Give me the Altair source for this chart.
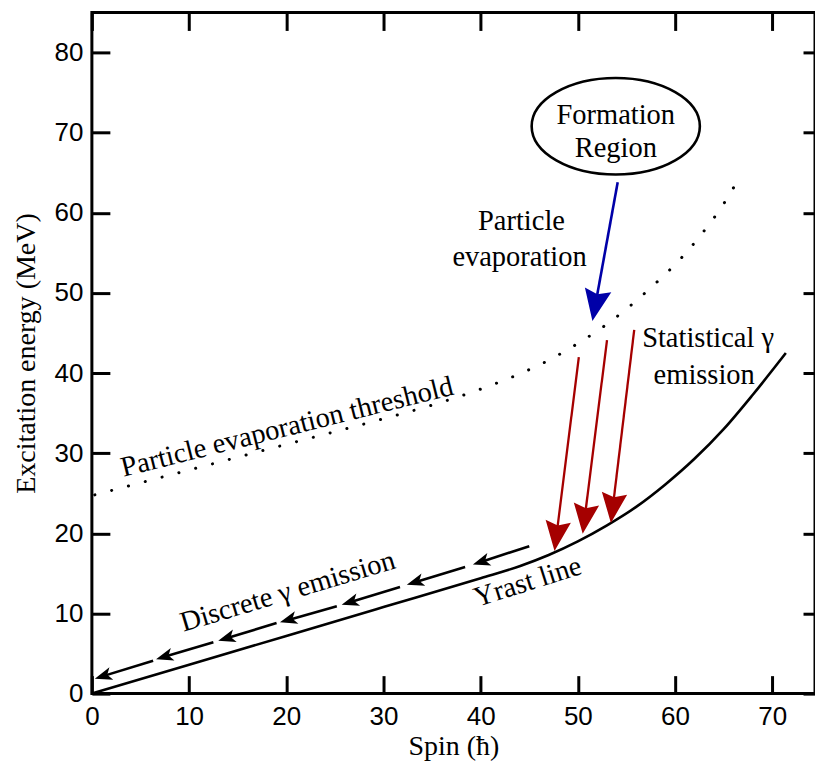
import math
import altair as alt
import pandas as pd

# ---------------- data ----------------
x_ticks = [0, 10, 20, 30, 40, 50, 60, 70]
y_ticks = [0, 10, 20, 30, 40, 50, 60, 70, 80]

yrast_spin = [0, 10, 20, 30, 40, 44, 47, 50, 53, 56, 59, 62, 65, 68, 71.4]
yrast_e = [0, 3.6, 7.2, 10.8, 14.4, 15.9, 17.3, 19.0, 21.0, 23.3, 26.1, 29.3, 33.0, 37.3, 42.5]

thr_spin = [0.3, 10, 20, 30, 35, 40, 44, 47, 50, 52.3, 55.2, 58, 60.6, 62.9, 65.1, 66.1]
thr_e = [24.8, 27.9, 31.1, 34.3, 36.0, 38.0, 39.9, 41.6, 43.7, 45.5, 48.2, 51.2, 54.3, 57.6, 61.3, 63.3]

disc_tail_spin = [6.3, 12.5, 19.0, 25.2, 31.7, 38.4, 45.0]
disc_tail_e = [4.1, 6.4, 8.8, 10.9, 13.3, 15.8, 18.4]
disc_tip_spin = [0.3, 6.6, 13.0, 19.35, 25.7, 32.4, 39.2]
disc_tip_e = [1.87, 4.3, 6.6, 8.9, 11.1, 13.6, 16.1]

red_start_spin = [50.1, 53.0, 55.8]
red_start_e = [42.0, 44.1, 45.4]
red_tip_spin = [47.6, 50.5, 53.4]
red_tip_e = [17.8, 19.95, 21.3]

blue_start_spin = [54.1]
blue_start_e = [63.8]
blue_tip_spin = [51.5]
blue_tip_e = [46.5]

ellipse_spin = [53.9]
ellipse_e = [70.8]

label_text = ["Formation", "Region", "Particle", "evaporation", "Statistical γ", "emission",
              "Particle evaporation threshold", "Discrete γ emission", "Yrast line"]
label_spin = [53.9, 53.9, 44.2, 44.0, 63.4, 63.0, 20.3, 20.4, 45.1]
label_e = [71.1, 66.9, 57.8, 53.4, 43.2, 38.65, 32.2, 11.7, 12.9]
label_angle = [0, 0, 0, 0, 0, 0, 346, 343.3, 342.4]

# ---------------- layout ----------------
W, H = 724, 682
XMAX, YMAX = 74.4, 85
sx, sy = W / XMAX, H / YMAX

xs = alt.Scale(domain=[0, XMAX], nice=False, zero=False)
ys = alt.Scale(domain=[0, YMAX], nice=False, zero=False)

SERIF = "Liberation Serif"
SANS = "Liberation Sans"


def arrows(s0, e0, s1, e1, back_px):
    rows = []
    for a, b, c, d in zip(s0, e0, s1, e1):
        dxp = (c - a) * sx
        dyp = -(d - b) * sy
        L = math.hypot(dxp, dyp)
        ang = math.degrees(math.atan2(-dyp, -dxp)) % 360
        f = back_px / L
        rows.append(dict(s0=a, e0=b, s1=c - (c - a) * f, e1=d - (d - b) * f,
                         ts=c, te=d, angle=ang))
    return pd.DataFrame(rows)


yrast_df = pd.DataFrame({"spin": yrast_spin, "e": yrast_e})
thr_df = pd.DataFrame({"spin": thr_spin, "e": thr_e})
disc_df = arrows(disc_tail_spin, disc_tail_e, disc_tip_spin, disc_tip_e, 6)
red_df = arrows(red_start_spin, red_start_e, red_tip_spin, red_tip_e, 12)
blue_df = arrows(blue_start_spin, blue_start_e, blue_tip_spin, blue_tip_e, 12)
ell_df = pd.DataFrame({"spin": ellipse_spin, "e": ellipse_e})
lab_df = pd.DataFrame({"t": label_text, "spin": label_spin, "e": label_e, "angle": label_angle})

common_ax = dict(tickWidth=3, tickColor="black", domain=False, grid=False)
ax_bottom = alt.Axis(orient="bottom", values=x_ticks, offset=-18, tickSize=18,
                     labelFont=SANS, labelFontSize=26, labelColor="black", labelPadding=10,
                     labelFlush=False, title="Spin (ħ)", titleFont=SERIF, titleFontSize=28,
                     titleFontWeight="normal", titleColor="black", titlePadding=3, **common_ax)
ax_left = alt.Axis(orient="left", values=y_ticks, offset=-18, tickSize=18,
                   labelFont=SANS, labelFontSize=26, labelColor="black", labelPadding=9,
                   title="Excitation energy (MeV)", titleFont=SERIF, titleFontSize=28,
                   titleFontWeight="normal", titleColor="black", titlePadding=14, **common_ax)
ax_top = alt.Axis(orient="top", values=x_ticks, offset=-18, tickSize=18, labels=False,
                  title="", **common_ax)
ax_right = alt.Axis(orient="right", values=y_ticks, offset=-12, tickSize=12, labels=False,
                    title="", **common_ax)

yrast = alt.Chart(yrast_df).mark_line(color="black", strokeWidth=2.6, interpolate="monotone").encode(
    x=alt.X("spin:Q", scale=xs, axis=ax_bottom),
    y=alt.Y("e:Q", scale=ys, axis=ax_left),
)

thr = alt.Chart(thr_df).mark_line(color="black", strokeWidth=3, strokeDash=[0.1, 17.3],
                                  strokeCap="round", interpolate="monotone").encode(
    x=alt.X("spin:Q", scale=xs, axis=ax_top),
    y=alt.Y("e:Q", scale=ys, axis=ax_right),
)

HEAD_SMALL = "M0,0 L2,-0.75 L1.5,0 L2,0.75 Z"
HEAD_BIG = "M0,0 L2,-0.85 L1.72,0 L2,0.85 Z"


def arrow_layers(df, color, width, head, size):
    r = alt.Chart(df).mark_rule(color=color, strokeWidth=width).encode(
        x=alt.X("s0:Q", scale=xs, axis=None), y=alt.Y("e0:Q", scale=ys, axis=None),
        x2="s1:Q", y2="e1:Q")
    h = alt.Chart(df).mark_point(shape=head, filled=True, color=color, opacity=1,
                                 size=size, strokeWidth=0).encode(
        x=alt.X("ts:Q", scale=xs, axis=None), y=alt.Y("te:Q", scale=ys, axis=None),
        angle=alt.Angle("angle:Q", scale=None))
    return [r, h]


k, r = 0.5523, 0.574
ELLIPSE = (f"M1,0 C1,{k*r:.4f} {k},{r} 0,{r} C{-k},{r} -1,{k*r:.4f} -1,0 "
           f"C-1,{-k*r:.4f} {-k},{-r} 0,{-r} C{k},{-r} 1,{-k*r:.4f} 1,0 Z")

ell = alt.Chart(ell_df).mark_point(shape=ELLIPSE, filled=False, color="black", opacity=1,
                                   size=168.4 ** 2, strokeWidth=2.6).encode(
    x=alt.X("spin:Q", scale=xs, axis=None), y=alt.Y("e:Q", scale=ys, axis=None))

labels = alt.Chart(lab_df).mark_text(font=SERIF, fontSize=28.5, align="center",
                                     baseline="alphabetic", color="black").encode(
    x=alt.X("spin:Q", scale=xs, axis=None), y=alt.Y("e:Q", scale=ys, axis=None),
    text="t:N", angle=alt.Angle("angle:Q", scale=None))

layers = [yrast, thr]
layers += arrow_layers(disc_df, "black", 2.6, HEAD_SMALL, 300)
layers += arrow_layers(red_df, "#a50000", 2.3, HEAD_BIG, 900)
layers += arrow_layers(blue_df, "#0000a8", 2.6, HEAD_BIG, 1000)
layers += [ell, labels]

chart = alt.layer(*layers).resolve_axis(x="independent", y="independent").properties(
    width=W, height=H,
    autosize=alt.AutoSizeParams(type="none"),
    padding={"left": 92, "top": 12, "right": 0, "bottom": 67},
    background="white",
).configure_view(stroke="black", strokeWidth=3)

chart.save("out.html", embed_options={"renderer": "svg", "actions": False})
